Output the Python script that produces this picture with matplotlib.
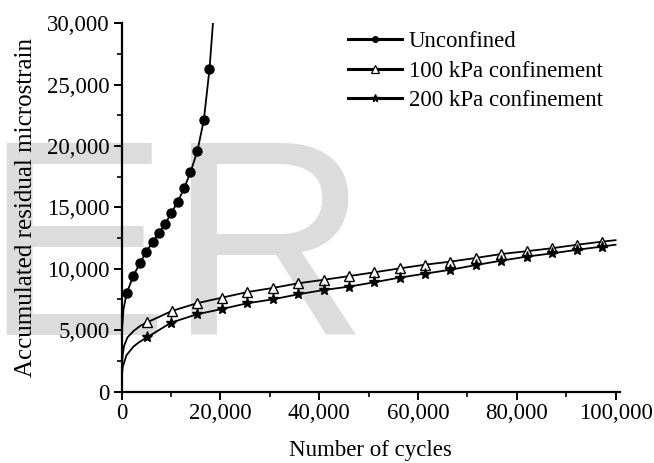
import matplotlib
matplotlib.use("Agg")
import matplotlib.pyplot as plt
from matplotlib.lines import Line2D
from matplotlib.ticker import FuncFormatter, MultipleLocator

# ---- data ----
unc_x = [0, 30, 150, 400, 1050, 2390, 3750, 4970, 6330, 7610, 8820, 10100,
         11400, 12680, 13960, 15380, 16670, 17810, 18500]
unc_y = [0, 3000, 5300, 6700, 8000, 9440, 10450, 11370, 12180, 12920, 13650,
         14550, 15470, 16560, 17860, 19630, 22130, 26260, 29950]
unc_marks = list(range(4, 18))

k100_x = [0, 50, 200, 500, 1200, 2500, 3800, 5230, 10180, 15250, 20380, 25450,
          30670, 35800, 40930, 46000, 51150, 56290, 61420, 66570, 71700, 76840,
          82000, 87060, 92250, 97320, 100000]
k100_y = [0, 1500, 2800, 3700, 4400, 4950, 5350, 5640, 6560, 7190, 7650, 8100,
          8440, 8820, 9100, 9400, 9710, 10030, 10330, 10580, 10880, 11200,
          11430, 11670, 11960, 12210, 12330]
k100_marks = list(range(7, 26))

k200_x = [0, 50, 250, 1000, 2400, 3500, 5110, 10040, 15250, 20320, 25460,
          30670, 35740, 40930, 46000, 51150, 56290, 61420, 66570, 71700, 76840,
          82000, 87060, 92250, 97320, 100000]
k200_y = [0, 1200, 2000, 2950, 3650, 4000, 4400, 5610, 6290, 6720, 7190, 7510,
          7920, 8270, 8540, 8900, 9280, 9600, 9920, 10300, 10660, 10990, 11250,
          11550, 11810, 11960]
k200_marks = list(range(6, 25))

labels = ["Unconfined", "100 kPa confinement", "200 kPa confinement"]
x_label = "Number of cycles"
y_label = "Accumulated residual microstrain"
watermark = "ER"

# ---- figure ----
plt.rcParams['font.family'] = ['Liberation Serif', 'DejaVu Serif']
fig = plt.figure(figsize=(6.54, 4.63), dpi=100)
fig.patch.set_facecolor('white')

fig.text(-17 / 654, (463 - 335) / 463, watermark, fontsize=200,
         family='Liberation Sans', color='#dcdcdc', ha='left', va='baseline',
         zorder=-5)

ax = fig.add_axes([121.5 / 654, (463 - 391.5) / 463,
                   (620 - 121.5) / 654, (391.5 - 23.3) / 463])
ax.set_facecolor('none')

lw = 1.3
ax.plot(unc_x, unc_y, color='black', lw=lw, marker='o', ms=6.5,
        markevery=unc_marks, mfc='black', mec='black', zorder=3)
ax.plot(k100_x, k100_y, color='black', lw=lw, marker='^', ms=7.5,
        markevery=k100_marks, mfc='white', mec='black', mew=1.0, zorder=3)
ax.plot(k200_x, k200_y, color='black', lw=lw, marker='*', ms=8,
        markevery=k200_marks, mfc='black', mec='black', zorder=3)

ax.set_xlim(0, 100900)
ax.set_ylim(0, 30000)

for s in ['top', 'right']:
    ax.spines[s].set_visible(False)
for s in ['left', 'bottom']:
    ax.spines[s].set_linewidth(1.6)

ax.xaxis.set_major_locator(MultipleLocator(20000))
ax.xaxis.set_minor_locator(MultipleLocator(10000))
ax.yaxis.set_major_locator(MultipleLocator(5000))
ax.yaxis.set_minor_locator(MultipleLocator(2500))
fmt = FuncFormatter(lambda v, p: f"{int(round(v)):,}")
ax.xaxis.set_major_formatter(fmt)
ax.yaxis.set_major_formatter(fmt)

ax.tick_params(which='major', direction='out', length=6, width=1.4,
               labelsize=16.5, pad=2.5)
ax.tick_params(which='minor', direction='out', length=3.5, width=1.2)

ax.set_xlabel(x_label, fontsize=16.5, labelpad=11)
ax.set_ylabel(y_label, fontsize=18, labelpad=7)

handles = [
    Line2D([], [], color='black', lw=2.2, marker='o', ms=4, mfc='black'),
    Line2D([], [], color='black', lw=2.2, marker='^', ms=5.5, mfc='white',
           mew=0.9),
    Line2D([], [], color='black', lw=2.2, marker='*', ms=5.5, mfc='black'),
]
leg = ax.legend(handles, labels, loc='upper left',
                bbox_to_anchor=((348 - 121.5) / 498.5, (391.5 - 31) / 368.2),
                frameon=False, fontsize=16.5, handlelength=2.36,
                handletextpad=0.3, labelspacing=0.375, borderaxespad=0,
                borderpad=0)

fig.savefig("out.png", dpi=100, facecolor='white')
